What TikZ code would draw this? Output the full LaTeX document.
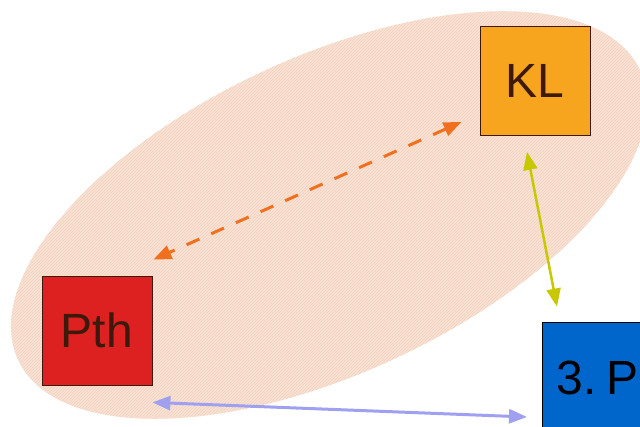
\documentclass[tikz,border=0pt]{standalone}
\usepackage{fontspec}
\setmainfont{Liberation Sans}
\usetikzlibrary{arrows.meta,patterns,calc}
\definecolor{peach}{RGB}{250,226,211}
\definecolor{peachline}{RGB}{240,210,192}
\definecolor{boxred}{RGB}{221,32,32}
\definecolor{boxorange}{RGB}{247,165,30}
\definecolor{boxblue}{RGB}{0,102,204}
\definecolor{textbrown}{RGB}{60,25,10}
\definecolor{arrorange}{RGB}{240,112,32}
\definecolor{arryellow}{RGB}{200,200,0}
\definecolor{arrlav}{RGB}{160,160,240}
\tikzset{
  sq/.style={draw=textbrown, line width=0.8pt, minimum width=110pt, minimum height=109pt,
    inner sep=0pt, font=\fontsize{48}{48}\selectfont, text=textbrown},
  conn/.style={line width=3pt, {Triangle[length=18pt,width=14pt]}-{Triangle[length=18pt,width=14pt]}}
}
\begin{document}
\begin{tikzpicture}[x=1pt,y=-1pt]
\useasboundingbox (0,0) rectangle (640,427);
\clip (0,0) rectangle (640,427);
\fill[white] (0,0) rectangle (640,427);
\begin{scope}[shift={(329,215)}, rotate=25]
  \fill[peach] (0,0) ellipse [x radius=343, y radius=158];
  \fill[pattern=north east lines, pattern color=peachline] (0,0) ellipse [x radius=343, y radius=158];
\end{scope}
\node[sq, fill=boxred] (pth) at (97,330.5) {Pth};
\node[sq, fill=boxorange] (kl) at (535,81) {KL};
\node[draw=black, line width=0.8pt, fill=boxblue, anchor=west, minimum height=112pt,
  text width=120pt, align=left, inner xsep=14pt, inner ysep=0pt,
  font=\fontsize{48}{48}\selectfont, text=black] (p3) at (542,378) {3.\kern-6pt\ P};
\coordinate (o1) at ($(kl.south west)+(-18,-14)$);
\coordinate (o2) at ($(pth.north east)+(1,-16)$);
\coordinate (y1) at ($(kl.south)+(-8,16)$);
\coordinate (y2) at ($(p3.north west)+(15,-15)$);
\coordinate (l1) at ($(pth.south east)+(0,17)$);
\coordinate (l2) at ($(p3.west)+(-15,39)$);
\draw[conn, arrorange, dash pattern=on 14pt off 13pt] (o1) -- (o2);
\draw[conn, arryellow, line width=2.5pt] (y1) -- (y2);
\draw[conn, arrlav] (l1) -- (l2);
\end{tikzpicture}
\end{document}
